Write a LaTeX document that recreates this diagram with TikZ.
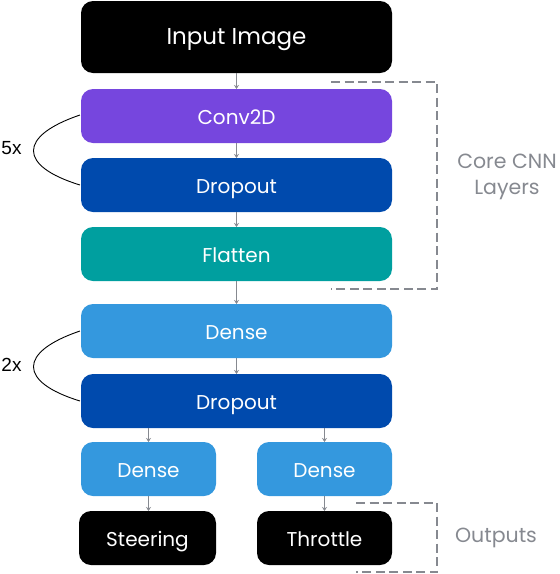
\documentclass[tikz,border=0pt]{standalone}
\usepackage{fontspec}
\setmainfont{Poppins}
\newfontfamily\labelfont{Liberation Sans}
\usetikzlibrary{arrows.meta}
\definecolor{cpurple}{HTML}{7646DE}
\definecolor{cdrop}{HTML}{004AAD}
\definecolor{cteal}{HTML}{009F9F}
\definecolor{cdense}{HTML}{3498DE}
\definecolor{cgray}{HTML}{868990}
\begin{document}
\begin{tikzpicture}[x=1pt,y=-1pt,
  layer/.style={text=white, font=\fontsize{20}{22}\selectfont, text height=14pt, text depth=0pt, inner sep=0pt},
  arr/.style={draw=cgray, line width=1.1pt, -{Stealth[length=4pt,width=5pt]}},
  brk/.style={draw=cgray, line width=2.4pt, dash pattern=on 9pt off 4.5pt},
  glabel/.style={text=cgray, font=\fontsize{20.5}{26}\selectfont, align=center},
  loop/.style={draw=black, line width=0.9pt},
  cnt/.style={font=\labelfont\fontsize{19}{21}\selectfont}]
\useasboundingbox (0,0) rectangle (560,574);
\fill[black, rounded corners=12pt] (81,1) rectangle (392,73);
\node[text=white, font=\fontsize{23}{26}\selectfont, text height=16pt, text depth=0pt, inner sep=0pt] (inp) at (236.5,36.5) {Input Image};
\fill[cpurple, rounded corners=12pt] (81,89) rectangle (392,143);
\node[layer] (conv) at (236.5,117) {Conv2D};
\fill[cdrop, rounded corners=12pt] (81,158) rectangle (392,212);
\node[layer] (drop1) at (236.5,186) {Dropout};
\fill[cteal, rounded corners=12pt] (81,227) rectangle (392,281);
\node[layer] (flat) at (236.5,255) {Flatten};
\fill[cdense, rounded corners=12pt] (81,304) rectangle (392,358);
\node[layer] (dense) at (236.5,332) {Dense};
\fill[cdrop, rounded corners=12pt] (81,374) rectangle (392,428);
\node[layer] (drop2) at (236.5,402) {Dropout};
\fill[cdense, rounded corners=12pt] (81,442) rectangle (216,496);
\node[layer] (dl) at (148.5,470) {Dense};
\fill[cdense, rounded corners=12pt] (257,442) rectangle (392,496);
\node[layer] (dr) at (324.5,470) {Dense};
\fill[black, rounded corners=12pt] (79,511) rectangle (216,565);
\node[layer] (steer) at (147.5,539) {Steering};
\fill[black, rounded corners=12pt] (257,511) rectangle (392,565);
\node[layer] (thr) at (324.5,539) {Throttle};
% arrows
\coordinate (a1s) at (236.5,73); \coordinate (a1e) at (236.5,89);
\coordinate (a2s) at (236.5,143); \coordinate (a2e) at (236.5,158);
\coordinate (a3s) at (236.5,212); \coordinate (a3e) at (236.5,227);
\coordinate (a4s) at (236.5,281); \coordinate (a4e) at (236.5,304);
\coordinate (a5s) at (236.5,358); \coordinate (a5e) at (236.5,374);
\coordinate (a6s) at (148.5,428); \coordinate (a6e) at (148.5,442);
\coordinate (a7s) at (324.5,428); \coordinate (a7e) at (324.5,442);
\coordinate (a8s) at (148.5,496); \coordinate (a8e) at (148.5,511);
\coordinate (a9s) at (324.5,496); \coordinate (a9e) at (324.5,511);
\foreach \i in {1,...,9} {\draw[arr] (a\i s) -- (a\i e);}
% brackets
\draw[brk] (331,82) -- (437,82) -- (437,289) -- (331,289);
\node[glabel] (core) at (507,177) {Core CNN\\Layers};
\draw[brk] (356,503) -- (437,503) -- (437,572) -- (356,572);
\node[glabel] (outs) at (496,538) {Outputs};
% loops
\coordinate (l1a) at (80,115); \coordinate (l1b) at (80,185);
\draw[loop] (l1a) .. controls (18,136) and (18,166) .. (l1b);
\node[cnt] (five) at (11.5,148) {5x};
\coordinate (l2a) at (80,331); \coordinate (l2b) at (80,401);
\draw[loop] (l2a) .. controls (18,352) and (18,382) .. (l2b);
\node[cnt] (two) at (11.5,365) {2x};
\end{tikzpicture}
\end{document}
